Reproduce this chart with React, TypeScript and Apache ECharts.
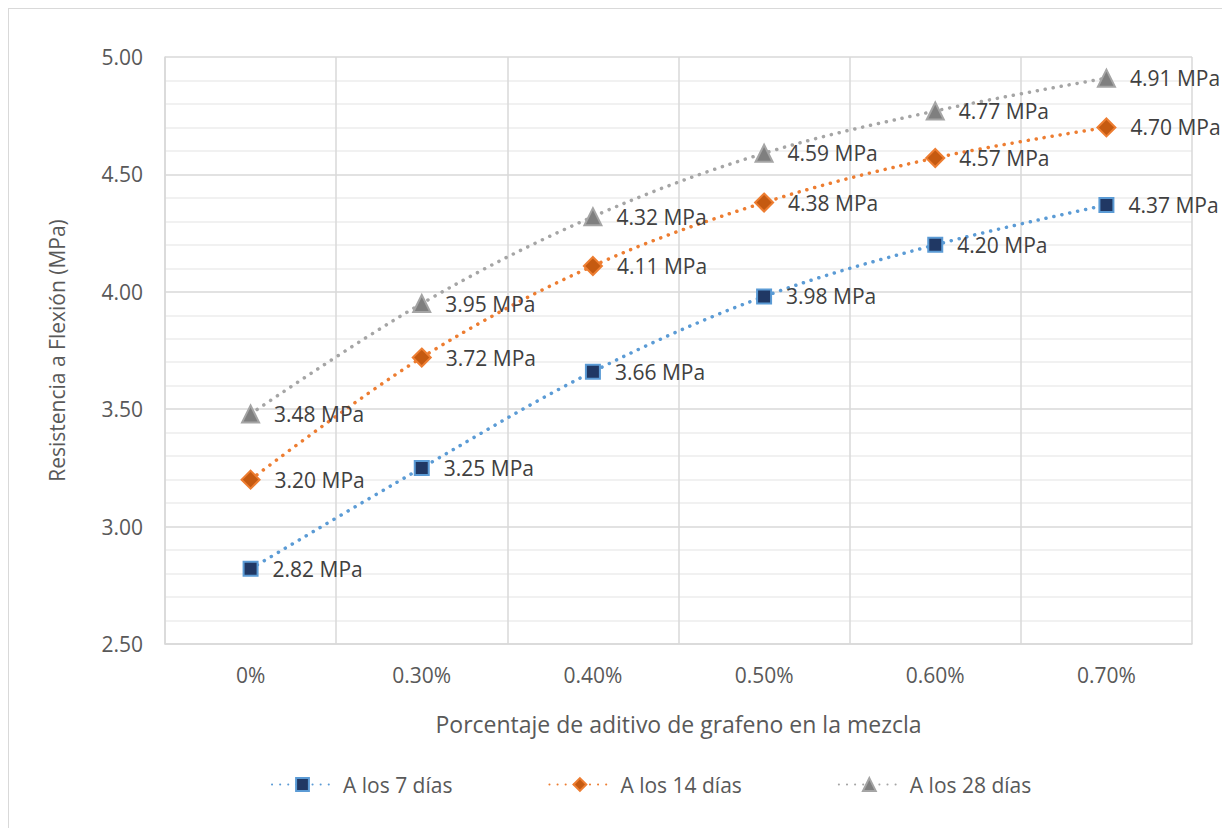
import React, { useEffect, useRef } from "react";
import * as echarts from "echarts";

const categories = ["0%", "0.30%", "0.40%", "0.50%", "0.60%", "0.70%"];
const dias7 = [2.82, 3.25, 3.66, 3.98, 4.2, 4.37];
const dias14 = [3.2, 3.72, 4.11, 4.38, 4.57, 4.7];
const dias28 = [3.48, 3.95, 4.32, 4.59, 4.77, 4.91];
const seriesNames = ["A los 7 días", "A los 14 días", "A los 28 días"];

const FONT = "'Open Sans', 'Noto Sans', sans-serif";

function makeSeries(
  name: string,
  data: number[],
  symbol: string,
  symbolSize: number,
  lineColor: string,
  fillColor: string
) {
  return {
    name,
    type: "line",
    data,
    smooth: 0.35,
    symbol,
    symbolSize,
    lineStyle: { color: lineColor, width: 3.5, type: [0.1, 8], cap: "round" },
    itemStyle: { color: fillColor, borderColor: lineColor, borderWidth: 2 },
    label: {
      show: true,
      position: "right",
      distance: 14,
      color: "#404040",
      fontFamily: FONT,
      fontSize: 21,
      formatter: (p: any) => `${Number(p.value).toFixed(2)} MPa`,
    },
    z: 3,
  };
}

export default function App() {
  const ref = useRef<HTMLDivElement>(null);

  useEffect(() => {
    if (!ref.current) return;
    const chart = echarts.init(ref.current, undefined, { renderer: "svg" });
    chart.setOption({
      animation: false,
      backgroundColor: "#ffffff",
      textStyle: { fontFamily: FONT },
      grid: { left: 156, top: 48, right: 37, bottom: 184 },
      legend: {
        bottom: 28,
        left: 257,
        itemWidth: 61,
        itemHeight: 16,
        itemGap: 96,
        data: seriesNames,
        textStyle: {
          color: "#595959",
          fontSize: 21,
          fontFamily: FONT,
          padding: [0, 0, 0, 5],
        },
      },
      xAxis: {
        type: "category",
        data: categories,
        boundaryGap: true,
        name: "Porcentaje de aditivo de grafeno en la mezcla",
        nameLocation: "middle",
        nameGap: 68,
        nameTextStyle: { color: "#595959", fontSize: 23, fontFamily: FONT },
        axisLine: { show: true, lineStyle: { color: "#D9D9D9", width: 1.5 } },
        axisTick: { show: false },
        axisLabel: { color: "#595959", fontSize: 21, margin: 20, fontFamily: FONT },
        splitLine: { show: true, interval: 0, lineStyle: { color: "#D9D9D9", width: 1.5 } },
      },
      yAxis: {
        type: "value",
        min: 2.5,
        max: 5,
        interval: 0.5,
        name: "Resistencia a Flexión (MPa)",
        nameLocation: "middle",
        nameRotate: 90,
        nameGap: 98,
        nameTextStyle: { color: "#595959", fontSize: 21, fontFamily: FONT },
        axisLine: { show: true, lineStyle: { color: "#D9D9D9", width: 1.5 } },
        axisTick: { show: false },
        axisLabel: {
          color: "#595959",
          fontSize: 21,
          margin: 22,
          fontFamily: FONT,
          formatter: (v: number) => v.toFixed(2),
        },
        splitLine: { show: true, lineStyle: { color: "#D9D9D9", width: 1.5 } },
        minorTick: { show: false, splitNumber: 5 },
        minorSplitLine: { show: true, lineStyle: { color: "#EDEDED", width: 1.5 } },
      },
      series: [
        makeSeries(seriesNames[0], dias7, "rect", 14, "#5B9BD5", "#203864"),
        makeSeries(seriesNames[1], dias14, "diamond", 18, "#ED7D31", "#C55A11"),
        makeSeries(seriesNames[2], dias28, "triangle", 17, "#A5A5A5", "#7F7F7F"),
      ],
    });
    return () => chart.dispose();
  }, []);

  return (
    <div
      style={{
        width: 1222,
        height: 820,
        boxSizing: "border-box",
        borderTop: "1px solid #D9D9D9",
        borderLeft: "1px solid #D9D9D9",
        borderRight: "1px solid #D9D9D9",
        background: "#fff",
      }}
    >
      <div ref={ref} style={{ width: 1220, height: 819 }} />
    </div>
  );
}
